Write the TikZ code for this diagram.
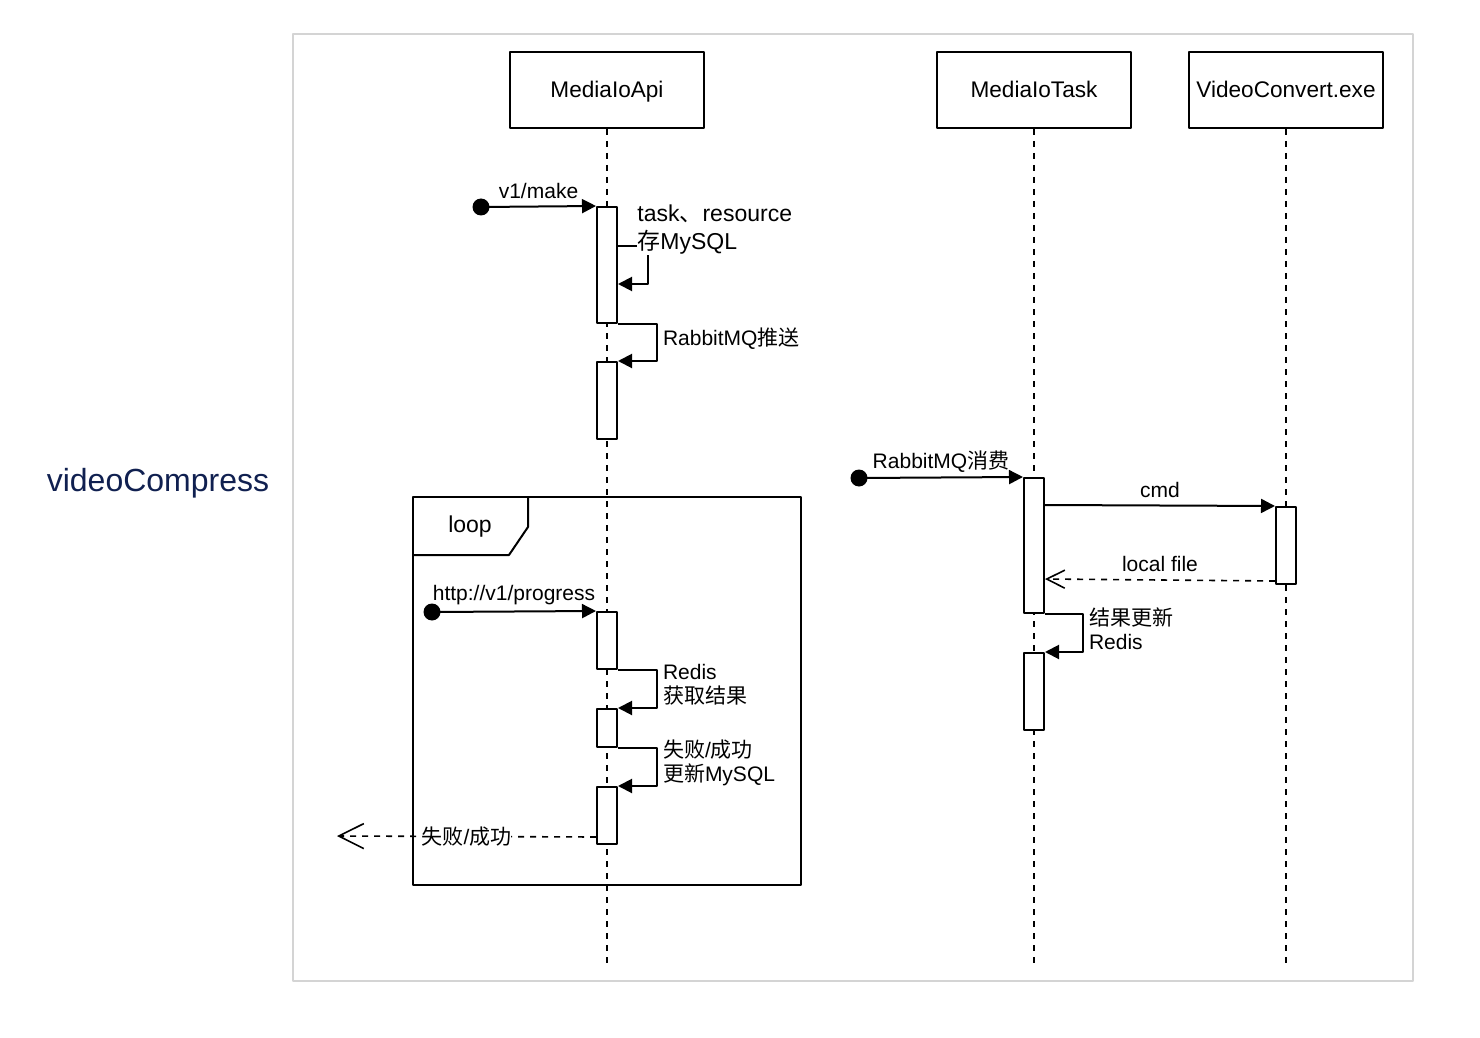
\documentclass[tikz,border=0pt]{standalone}
\usepackage{fontspec}
\setmainfont{Liberation Sans}
\newfontfamily\cjk{Noto Sans CJK SC}
\usetikzlibrary{arrows.meta}
\definecolor{navy}{RGB}{16,32,80}
\definecolor{framegray}{RGB}{212,212,212}

\begin{document}
\begin{tikzpicture}[x=0.5pt,y=-0.5pt,line join=round,
  head/.style={draw,line width=1pt,minimum width=97pt,minimum height=38pt,inner sep=0pt,text height=8.2pt,text depth=0.2pt,font=\fontsize{11.3}{13}\selectfont},
  act/.style={draw,line width=1pt,fill=white,minimum width=10pt,inner sep=0pt},
  life/.style={line width=0.8pt,dash pattern=on 3pt off 3pt},
  dot/.style={circle,fill,inner sep=0pt,minimum size=8.5pt},
  msg/.style={line width=1pt,-{Triangle[length=7pt,width=7pt]}},
  ret/.style={line width=0.8pt,dash pattern=on 3pt off 3pt,-{Straight Barb[length=9pt,width=9pt]}},
  lbl/.style={font=\fontsize{10.5}{12.2}\selectfont,inner sep=1pt,align=left},
  side/.style={lbl,pos=0.25,right=1.5pt,yshift=2pt}]
\useasboundingbox (0,0) rectangle (1480,1038);
\draw[framegray,line width=1pt] (293,34) rectangle (1413,981);
\node[text=navy,font=\fontsize{16}{19}\selectfont] (title) at (158,483) {videoCompress};
% lifelines
\foreach \n/\x/\t in {api/607/MediaIoApi,task/1034/MediaIoTask,conv/1286/VideoConvert.exe}
  \node[head] (\n) at (\x,90) {\t};
\foreach \n in {api,task,conv} \draw[life] (\n.south) -- ++(0,834);
% loop frame
\node[draw,line width=1pt,minimum width=194pt,minimum height=194pt,inner sep=0pt] (loop) at (607,691) {};
\draw[line width=1pt] ([yshift=-29.5pt]loop.north west) -- ++(97,0) -- ++(19,-28) -- ++(0,-31);
\node[font=\fontsize{11.5}{13}\selectfont] (looplbl) at (470,527) {loop};
% activations
\foreach \n/\x/\y/\h in {a1/607/265/58,a2/607/400.5/38.5,a3/607/640.5/28.5,a4/607/728/19,a5/607/815.5/28.5,
    t1/1034/545.5/67.5,t2/1034/691.5/38.5,v1/1286/545.5/38.5}
  \node[act,minimum height=\h pt] (\n) at (\x,\y) {};
\foreach \n/\x/\y in {s1/481/207,s2/432/612,s3/859/478} \node[dot] (\n) at (\x,\y) {};
% messages
\draw[msg] (s1.center) -- (a1.north west) node[lbl,midway,above=2.5pt] {v1/make};
\draw[msg] ([yshift=-20pt]a1.north east) -- ++(30,0) -- ++(0,38) -- ++(-30,0);
\node[lbl,font=\fontsize{11.5}{14}\selectfont,fill=white,inner sep=0pt,anchor=west] (m1) at (637,230) {task{\cjk 、}resource\\{\cjk 存}MySQL};
\draw[msg] (a1.south east) -- ++(39,0) |- (a2.north east) node[side] {RabbitMQ{\cjk 推送}};
\draw[msg] (s2.center) -- (a3.north west) node[lbl,midway,above=2pt] {http://v1/progress};
\draw[msg] (a3.south east) -- ++(39,0) |- (a4.north east) node[side] {Redis\\{\cjk 获取结果}};
\draw[msg] (a4.south east) -- ++(39,0) |- (a5.north east) node[side] {{\cjk 失败}/{\cjk 成功}\\{\cjk 更新}MySQL};
\coordinate (back) at (337,836);
\draw[ret,-{Straight Barb[length=12.5pt,width=12.5pt]}] ([yshift=4pt]a5.south west) -- (back) node[lbl,midway,fill=white,inner sep=0pt] {{\cjk 失败}/{\cjk 成功}};
\draw[msg] (s3.center) -- (t1.north west) node[lbl,midway,above=1pt] {RabbitMQ{\cjk 消费}};
\draw[msg] ([yshift=-14pt]t1.north east) -- (v1.north west) node[lbl,midway,above=2.5pt] {cmd};
\draw[ret] ([yshift=2pt]v1.south west) -- ([yshift=-51pt]t1.north east) node[lbl,midway,above=2.5pt] {local file};
\draw[msg] (t1.south east) -- ++(38,0) |- (t2.north east) node[side] {{\cjk 结果更新}\\Redis};
\end{tikzpicture}
\end{document}
